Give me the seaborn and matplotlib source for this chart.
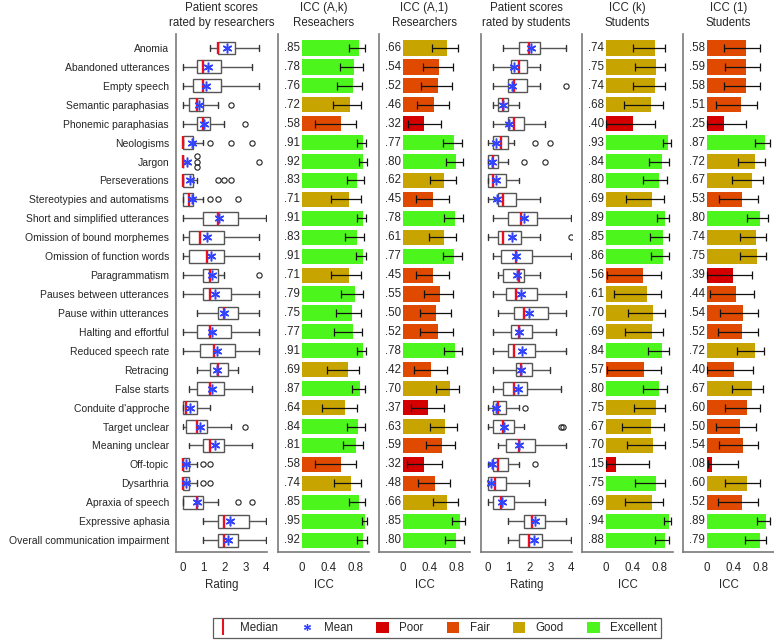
import numpy as np
import matplotlib.pyplot as plt
import seaborn as sns
from matplotlib.lines import Line2D
from matplotlib.patches import Patch

features = ["Anomia", "Abandoned utterances", "Empty speech", "Semantic paraphasias",
            "Phonemic paraphasias", "Neologisms", "Jargon", "Perseverations",
            "Stereotypies and automatisms", "Short and simplified utterances",
            "Omission of bound morphemes", "Omission of function words", "Paragrammatism",
            "Pauses between utterances", "Pause within utterances", "Halting and effortful",
            "Reduced speech rate", "Retracing", "False starts", "Conduite d'approche",
            "Target unclear", "Meaning unclear", "Off-topic", "Dysarthria",
            "Apraxia of speech", "Expressive aphasia", "Overall communication impairment"]

# patient scores rated by researchers (box summaries)
res_wlo = [1.33, 0, 0, 0, 0, 0, 0, 0, 0, 0, 0, 0, 0, 0, 0.67, 0, 0, 0.67, 0.33, 0, 0, 0.33, 0, 0, 0, 1.0, 1.0]
res_q1 = [1.67, 0.67, 0.5, 0.33, 0.67, 0, 0, 0, 0, 1.0, 0.33, 0.33, 1.0, 1.0, 1.67, 0.67, 0.83, 1.33, 0.67, 0, 0.17, 1.0, 0, 0, 0, 1.67, 1.67]
res_med = [1.67, 1.0, 1.0, 0.67, 1.0, 0, 0, 0, 0.33, 1.67, 0.83, 1.17, 1.33, 1.33, 2.0, 1.33, 1.5, 1.67, 1.33, 0.17, 0.67, 1.33, 0, 0, 0.67, 2.0, 2.0]
res_q3 = [2.5, 1.83, 1.83, 1.0, 1.33, 0.5, 0, 0.5, 0.5, 2.67, 2.0, 2.0, 1.67, 2.33, 2.67, 2.33, 2.5, 2.17, 2.0, 0.67, 1.17, 2.0, 0.33, 0.33, 1.0, 3.17, 2.67]
res_whi = [3.67, 3.33, 3.67, 1.67, 2.0, 1.0, 0, 0.67, 1.0, 4.0, 3.67, 3.67, 2.0, 3.67, 3.67, 3.67, 3.67, 2.67, 3.33, 1.33, 2.33, 3.33, 0.67, 0.67, 1.67, 4.0, 4.0]
res_mean = [2.1, 1.22, 1.14, 0.8, 1.03, 0.43, 0.22, 0.38, 0.43, 1.75, 1.15, 1.35, 1.4, 1.54, 2.0, 1.43, 1.65, 1.65, 1.41, 0.37, 0.83, 1.54, 0.19, 0.19, 0.7, 2.25, 2.19]
res_fliers = [[], [], [], [2.33], [3.0], [1.33, 2.33, 3.33], [0.67, 0.67, 0.67, 3.67],
              [1.67, 2.0, 2.33], [1.33, 1.67, 2.67], [], [], [], [3.67], [], [], [], [], [], [],
              [], [3.0], [], [1.0, 1.33], [1.0, 1.33], [2.67, 3.33], [], []]

# patient scores rated by students
stu_wlo = [0.75, 0.25, 0.25, 0.25, 0.25, 0, 0, 0, 0, 0.25, 0, 0.25, 0.5, 0.25, 0.5, 0.25, 0.25, 0.25, 0.25, 0, 0, 0.5, 0, 0, 0, 1.0, 1.0]
stu_q1 = [1.5, 1.12, 1.0, 0.5, 1.0, 0.25, 0, 0, 0.5, 1.0, 0.5, 0.62, 0.75, 0.88, 1.25, 1.12, 1.0, 1.38, 0.75, 0.25, 0.25, 0.88, 0.25, 0, 0.25, 1.75, 1.5]
stu_med = [2.0, 1.5, 1.25, 0.75, 1.25, 0.62, 0.25, 0.25, 0.75, 1.62, 0.75, 1.38, 1.5, 1.38, 1.75, 1.5, 1.25, 1.62, 1.25, 0.5, 0.75, 1.5, 0.5, 0.38, 0.62, 2.12, 2.0]
stu_q3 = [2.5, 1.88, 1.88, 1.0, 1.75, 1.0, 0.5, 0.88, 1.38, 2.38, 1.62, 2.12, 1.75, 2.38, 2.88, 2.12, 2.25, 2.12, 1.88, 0.88, 1.25, 2.25, 1.0, 0.88, 1.25, 2.75, 2.62]
stu_whi = [3.75, 2.5, 2.5, 1.5, 2.75, 1.25, 1.0, 1.5, 2.5, 4.0, 2.5, 4.0, 2.5, 3.75, 3.75, 3.25, 3.75, 3.0, 3.5, 1.5, 1.75, 3.75, 1.5, 2.0, 2.75, 3.75, 4.0]
stu_mean = [2.09, 1.24, 1.17, 0.75, 1.04, 0.4, 0.22, 0.4, 0.43, 1.76, 1.16, 1.37, 1.4, 1.6, 2.0, 1.48, 1.64, 1.62, 1.46, 0.4, 0.77, 1.51, 0.22, 0.18, 0.69, 2.27, 2.2]
stu_fliers = [[], [], [3.75], [], [], [2.25, 3.0], [1.75, 2.75], [], [], [], [4.0], [], [], [],
              [], [], [], [], [], [1.8], [3.5, 3.62], [], [2.25], [], [], [], []]

# ICC (A,k) researchers
icc_ak = [.85, .78, .76, .72, .58, .91, .92, .83, .71, .91, .83, .91, .71, .79, .75, .77, .91, .69, .87, .64, .84, .81, .58, .74, .85, .95, .92]
icc_ak_lo = [.70, .57, .53, .46, .19, .82, .85, .67, .44, .82, .65, .81, .44, .59, .51, .48, .83, .38, .75, .30, .68, .62, .19, .48, .71, .90, .83]
icc_ak_hi = [.94, .91, .90, .88, .81, .96, .97, .93, .88, .96, .93, .96, .88, .91, .89, .90, .96, .86, .95, .83, .94, .92, .81, .89, .94, .98, .97]
icc_ak_cat = ["Excellent", "Excellent", "Excellent", "Good", "Fair", "Excellent", "Excellent", "Excellent",
              "Good", "Excellent", "Excellent", "Excellent", "Good", "Excellent", "Excellent", "Excellent",
              "Excellent", "Good", "Excellent", "Good", "Excellent", "Excellent", "Fair", "Good",
              "Excellent", "Excellent", "Excellent"]

# ICC (A,1) researchers
icc_a1 = [.66, .54, .52, .46, .32, .77, .80, .62, .45, .78, .61, .77, .45, .55, .50, .52, .78, .42, .70, .37, .63, .59, .32, .48, .66, .85, .80]
icc_a1_lo = [.43, .30, .27, .21, .08, .60, .65, .40, .20, .62, .39, .60, .20, .31, .25, .25, .62, .17, .50, .12, .41, .35, .06, .23, .45, .73, .63]
icc_a1_hi = [.82, .75, .73, .69, .57, .88, .90, .80, .69, .90, .79, .88, .69, .75, .72, .75, .89, .66, .84, .62, .81, .78, .58, .71, .82, .93, .91]
icc_a1_cat = ["Good", "Fair", "Fair", "Fair", "Poor", "Excellent", "Excellent", "Good", "Fair",
              "Excellent", "Good", "Excellent", "Fair", "Fair", "Fair", "Fair", "Excellent", "Fair",
              "Good", "Poor", "Good", "Fair", "Poor", "Fair", "Good", "Excellent", "Excellent"]

# ICC (k) students
icc_k = [.74, .75, .74, .68, .40, .93, .84, .80, .69, .89, .85, .86, .56, .61, .70, .69, .84, .57, .80, .75, .67, .70, .15, .75, .69, .94, .88]
icc_k_lo = [.41, .43, .41, .27, .00, .85, .64, .55, .30, .76, .66, .68, .01, .12, .33, .29, .63, .02, .55, .42, .24, .32, .00, .43, .29, .87, .73]
icc_k_hi = [.89, .89, .89, .86, .74, .97, .94, .92, .87, .95, .94, .94, .82, .83, .88, .86, .94, .82, .92, .89, .87, .88, .64, .89, .86, .97, .95]
icc_k_cat = ["Good", "Good", "Good", "Good", "Poor", "Excellent", "Excellent", "Excellent", "Good",
             "Excellent", "Excellent", "Excellent", "Fair", "Good", "Good", "Good", "Excellent", "Fair",
             "Excellent", "Good", "Good", "Good", "Poor", "Excellent", "Good", "Excellent", "Excellent"]

# ICC (1) students
icc_1 = [.58, .59, .58, .51, .25, .87, .72, .67, .53, .80, .74, .75, .39, .44, .54, .52, .72, .40, .67, .60, .50, .54, .08, .60, .52, .89, .79]
icc_1_lo = [.25, .27, .25, .14, .00, .72, .46, .37, .18, .60, .49, .50, .00, .04, .19, .16, .45, .00, .37, .27, .13, .18, .01, .27, .16, .75, .57]
icc_1_hi = [.79, .80, .79, .75, .58, .94, .87, .84, .76, .91, .88, .88, .68, .71, .77, .76, .86, .69, .84, .80, .74, .77, .46, .80, .76, .94, .89]
icc_1_cat = ["Fair", "Fair", "Fair", "Fair", "Poor", "Excellent", "Good", "Good", "Fair", "Excellent",
             "Good", "Good", "Poor", "Fair", "Fair", "Fair", "Good", "Fair", "Good", "Fair", "Fair",
             "Fair", "Poor", "Good", "Fair", "Excellent", "Excellent"]

levels = ["Poor", "Fair", "Good", "Excellent"]
level_colors = {"Poor": "#d40000", "Fair": "#e04a00", "Good": "#c8a400", "Excellent": "#4cf51c"}

sns.set_theme(style="white")
plt.rcParams['font.family'] = ['Liberation Sans', 'DejaVu Sans']

fig = plt.figure(figsize=(7.74, 6.41), dpi=100)
W, H = 774, 641
lefts = [176, 278, 379, 481, 582, 683]
top, bottom = 34, 552
axes = [fig.add_axes([l / W, (H - bottom) / H, 91 / W, (bottom - top) / H]) for l in lefts]

n = len(features)
pos = np.arange(n)
ylim = (n - 1 + 0.63, -0.74)
spine_col = "#7a7a7a"


def box_panel(ax, wlo, q1, med, q3, whi, mean, fliers, title):
    stats = []
    for i in range(n):
        stats.append(dict(med=med[i], q1=q1[i], q3=q3[i], whislo=wlo[i], whishi=whi[i], mean=mean[i]))
    ax.bxp(stats, positions=pos, widths=0.68, orientation='horizontal', showfliers=False,
           showmeans=False, patch_artist=True, capwidths=0.3,
           boxprops=dict(facecolor='white', edgecolor='#555555', linewidth=1.0),
           whiskerprops=dict(color='#555555', linewidth=1.0),
           capprops=dict(color='#333333', linewidth=1.0),
           medianprops=dict(color='#e8101e', linewidth=1.7))
    ax.plot(mean, pos, linestyle='none', marker=(6, 2, 0), markersize=7,
            markeredgecolor='#3344ff', markeredgewidth=1.1, zorder=5)
    # fliers, identical values stacked vertically
    for i, fl in enumerate(fliers):
        vals, counts = np.unique(fl, return_counts=True)
        for v, c in zip(vals, counts):
            offs = (np.arange(c) - (c - 1) / 2) * 0.28
            ax.plot([v] * c, i + offs, linestyle='none', marker='o', markersize=3.8,
                    markerfacecolor='none', markeredgecolor='#222222', markeredgewidth=0.8)
    ax.set_xlim(-0.31, 4.03)
    ax.set_xticks([0, 1, 2, 3, 4])
    ax.set_xlabel("Rating", fontsize=8.3, labelpad=4)
    ax.set_title(title, fontsize=8.3, pad=6, linespacing=1.35)


def icc_panel(ax, vals, lo, hi, cats, title):
    sns.barplot(x=vals, y=features, hue=cats, palette=level_colors, hue_order=levels,
                order=features, dodge=False, width=0.8, saturation=1, legend=False,
                orient='h', linewidth=0, ax=ax)
    vals = np.array(vals)
    ax.errorbar(vals, pos, xerr=[vals - np.array(lo), np.array(hi) - vals], fmt='none',
                ecolor='#111111', elinewidth=0.9, capsize=3, capthick=0.9, zorder=5)
    for i, v in enumerate(vals):
        ax.text(-0.035, i, ("%.2f" % v)[1:], ha='right', va='center', fontsize=8.3)
    ax.set_xlim(-0.36, 1.005)
    ax.set_xticks([0, 0.4, 0.8])
    ax.set_xticklabels(["0", "0.4", "0.8"])
    ax.set_xlabel("ICC", fontsize=8.3, labelpad=4)
    ax.set_ylabel("")
    ax.set_title(title, fontsize=8.3, pad=6, linespacing=1.35)


box_panel(axes[0], res_wlo, res_q1, res_med, res_q3, res_whi, res_mean, res_fliers,
          "Patient scores\nrated by researchers")
icc_panel(axes[1], icc_ak, icc_ak_lo, icc_ak_hi, icc_ak_cat, "ICC (A,k)\nReseachers")
icc_panel(axes[2], icc_a1, icc_a1_lo, icc_a1_hi, icc_a1_cat, "ICC (A,1)\nResearchers")
box_panel(axes[3], stu_wlo, stu_q1, stu_med, stu_q3, stu_whi, stu_mean, stu_fliers,
          "Patient scores\nrated by students")
icc_panel(axes[4], icc_k, icc_k_lo, icc_k_hi, icc_k_cat, "ICC (k)\nStudents")
icc_panel(axes[5], icc_1, icc_1_lo, icc_1_hi, icc_1_cat, "ICC (1)\nStudents")

for k, ax in enumerate(axes):
    ax.set_ylim(*ylim)
    for s in ["top", "right"]:
        ax.spines[s].set_visible(False)
    for s in ["left", "bottom"]:
        ax.spines[s].set_color(spine_col)
        ax.spines[s].set_linewidth(1.2)
    ax.tick_params(axis='x', length=0, labelsize=8.3, pad=7)
    ax.tick_params(axis='y', length=0)
    if k == 0:
        ax.set_yticks(pos)
        ax.set_yticklabels(features, fontsize=7.5)
        ax.tick_params(axis='y', pad=5)
    else:
        ax.set_yticks([])

handles = [Line2D([], [], linestyle='none', marker='|', markersize=11, markeredgewidth=1.5,
                  color='#e8101e'),
           Line2D([], [], linestyle='none', marker=(6, 2, 0), markersize=5,
                  markeredgecolor='#3344ff', markeredgewidth=0.9)]
handles += [Patch(facecolor=level_colors[l], edgecolor='none') for l in levels]
labels = ["Median", "Mean"] + levels
leg = fig.legend(handles, labels, ncol=6, loc='center', bbox_to_anchor=(437 / W, 1 - 628 / H),
                 fontsize=8.3, frameon=True, fancybox=False, edgecolor='#333333',
                 handlelength=1.1, handleheight=1.1, columnspacing=2.0, handletextpad=0.9,
                 borderpad=0.35, borderaxespad=0)
leg.get_frame().set_linewidth(0.9)

fig.savefig("out.png", dpi=100)
